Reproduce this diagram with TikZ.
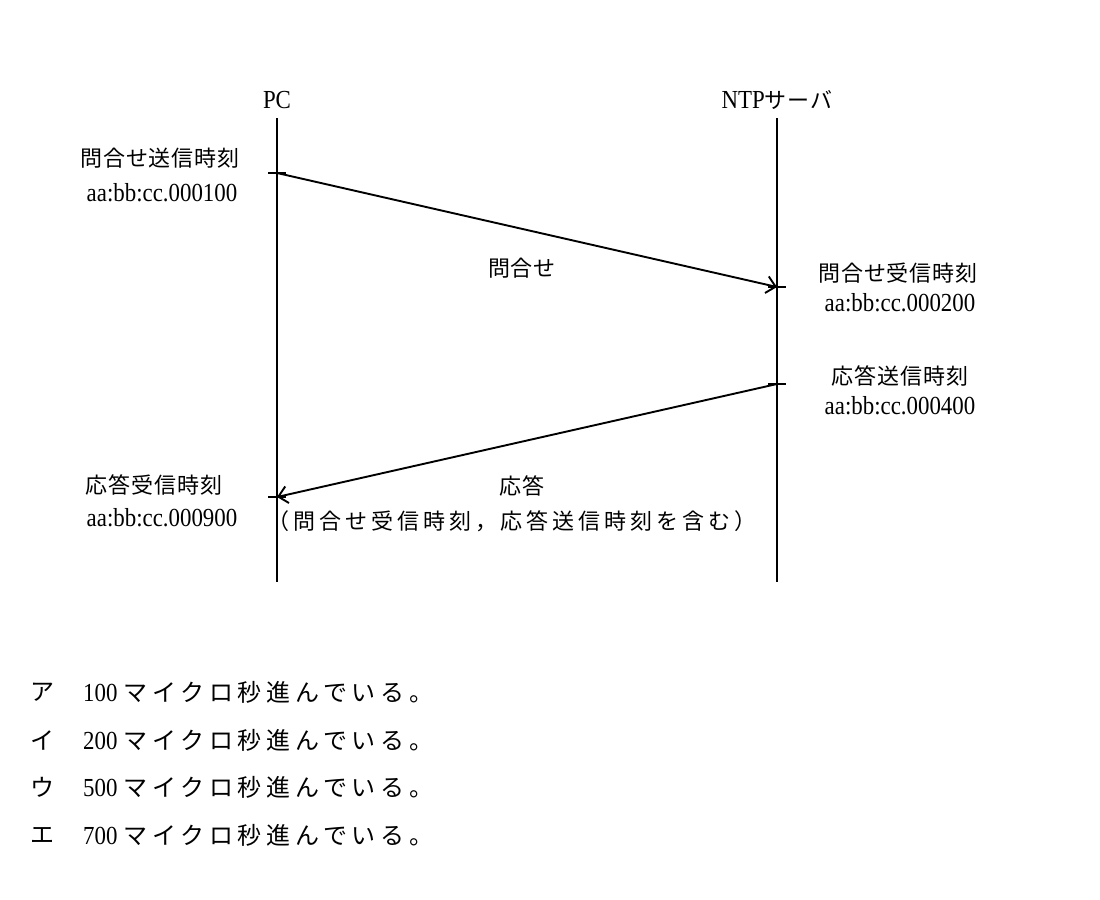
\documentclass[tikz,border=0pt]{standalone}
\usepackage{fontspec}
\setmainfont[FakeStretch=0.88]{Liberation Serif}
\newfontfamily\cjk[LetterSpace=4]{Noto Sans CJK JP}
\newfontfamily\cjkwide[LetterSpace=18]{Noto Sans CJK JP}
\newfontfamily\cjkopt[LetterSpace=20]{Noto Sans CJK JP}
\usetikzlibrary{arrows.meta}
\begin{document}
\begin{tikzpicture}[x=1bp,y=-1bp,
  lbl/.style={inner sep=0pt, font=\fontsize{22bp}{26bp}\selectfont},
  lat/.style={inner sep=0pt, font=\fontsize{26bp}{30bp}\selectfont},
  optk/.style={inner sep=0pt, font=\fontsize{24bp}{28bp}\selectfont},
  life/.style={line width=2.1bp},
  msg/.style={line width=1.9bp, -{Straight Barb[length=9bp,width=17bp,line width=1.9bp]}},
  tick/.style={line width=1.9bp}]
\useasboundingbox (0,0) rectangle (1100,900);

% headers
\node[lat] (pc) at (277,100) {PC};
\node[lat] (ntp) at (777,100) {NTP{\fontsize{22bp}{26bp}\selectfont\cjk サーバ}};

% lifelines
\coordinate (pctop) at (277,118);
\coordinate (pcbot) at (277,582);
\coordinate (svtop) at (777,118);
\coordinate (svbot) at (777,582);
\draw[life] (pctop) -- (pcbot);
\draw[life] (svtop) -- (svbot);

% events
\coordinate (s1) at (277,173);
\coordinate (r1) at (777,287);
\coordinate (s2) at (777,384);
\coordinate (r2) at (277,497);
\foreach \e in {s1,r1,s2,r2}
  \draw[tick] ([xshift=-9bp]\e) -- ([xshift=9bp]\e);

\draw[msg] (s1) -- (r1);
\draw[msg] (s2) -- (r2);

% time labels
\node[lbl] (t1a) at (160,158) {\cjk 問合せ送信時刻};
\node[lat] (t1b) at (162,193) {aa:bb:cc.000100};
\node[lbl] (t2a) at (898,273) {\cjk 問合せ受信時刻};
\node[lat] (t2b) at (900,303) {aa:bb:cc.000200};
\node[lbl] (t3a) at (900,376) {\cjk 応答送信時刻};
\node[lat] (t3b) at (900,406) {aa:bb:cc.000400};
\node[lbl] (t4a) at (154,485) {\cjk 応答受信時刻};
\node[lat] (t4b) at (162,518) {aa:bb:cc.000900};

% message labels
\node[lbl] (m1) at (522,268) {\cjk 問合せ};
\node[lbl] (m2a) at (522,486) {\cjk 応答};
\node[lbl] (m2b) at (512,521) {\cjkwide （問合せ受信時刻，応答送信時刻を含む）};

% options
\foreach \k/\v/\y/\n in {ア/100/692/o1, イ/200/740/o2, ウ/500/787/o3, エ/700/835/o4}{
  \node[optk] (\n k) at (42,\y) {\cjk \k};
  \node[lat, anchor=west] (\n t) at (83,\y) {\v\ {\fontsize{24bp}{28bp}\selectfont\cjkopt マイクロ秒進んでいる。}};
}
\end{tikzpicture}
\end{document}
